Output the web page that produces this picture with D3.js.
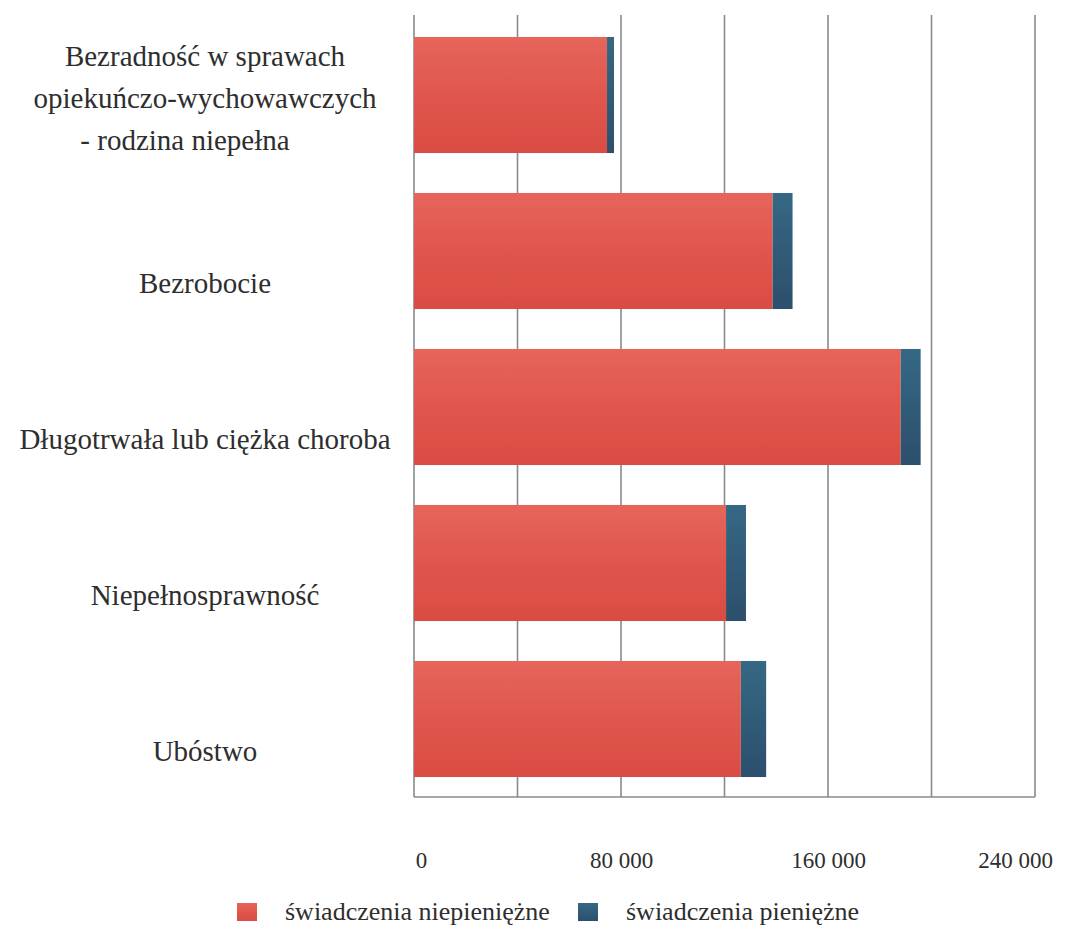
<!DOCTYPE html>
<html>
<head>
<meta charset="utf-8">
<script src="https://cdn.jsdelivr.net/npm/d3@7"></script>
</head>
<body style="margin:0;padding:0;background:#ffffff">
<svg id="chart" width="1068" height="925" style="display:block"></svg>
<script>
const categories = [
  ["Bezradność w sprawach", "opiekuńczo-wychowawczych", "- rodzina niepełna"],
  ["Bezrobocie"],
  ["Długotrwała lub ciężka choroba"],
  ["Niepełnosprawność"],
  ["Ubóstwo"]
];
const nonCash = [74600, 138600, 188100, 120600, 126300];
const cash = [2700, 7700, 7700, 7700, 9800];
const seriesNames = ["świadczenia niepieniężne", "świadczenia pieniężne"];
const tickValues = [0, 80000, 160000, 240000];
const gridValues = [0, 40000, 80000, 120000, 160000, 200000, 240000];

const svg = d3.select("#chart");
const plotLeft = 414, plotRight = 1035, plotTop = 15, plotBottom = 797;
const serif = "'Liberation Serif'";
const textColor = "#2e2e2e";

const x = d3.scaleLinear().domain([0, 240000]).range([plotLeft, plotRight]);
const y = d3.scaleBand().domain(d3.range(categories.length)).range([17, plotBottom]).paddingInner(0.256).paddingOuter(0.128);

const defs = svg.append("defs");
const gRed = defs.append("linearGradient").attr("id", "gRed").attr("x1", 0).attr("y1", 0).attr("x2", 0).attr("y2", 1);
gRed.append("stop").attr("offset", "0%").attr("stop-color", "#e6655b");
gRed.append("stop").attr("offset", "50%").attr("stop-color", "#e0564c");
gRed.append("stop").attr("offset", "100%").attr("stop-color", "#da4c43");
const gBlue = defs.append("linearGradient").attr("id", "gBlue").attr("x1", 0).attr("y1", 0).attr("x2", 0).attr("y2", 1);
gBlue.append("stop").attr("offset", "0%").attr("stop-color", "#356884");
gBlue.append("stop").attr("offset", "100%").attr("stop-color", "#2c4f6c");

// grid lines
svg.append("g").selectAll("line").data(gridValues).join("line")
  .attr("x1", d => x(d)).attr("x2", d => x(d))
  .attr("y1", plotTop).attr("y2", plotBottom)
  .attr("stroke", "#858b90").attr("stroke-width", 1.6);
// bottom axis line
svg.append("line").attr("x1", plotLeft).attr("x2", plotRight).attr("y1", plotBottom).attr("y2", plotBottom)
  .attr("stroke", "#858b90").attr("stroke-width", 1.6);

// bars
const bars = svg.append("g");
bars.selectAll("rect.nc").data(nonCash).join("rect").attr("class", "nc")
  .attr("x", x(0)).attr("y", (d, i) => y(i))
  .attr("width", d => x(d) - x(0)).attr("height", y.bandwidth())
  .attr("fill", "url(#gRed)");
bars.selectAll("rect.c").data(cash).join("rect").attr("class", "c")
  .attr("x", (d, i) => x(nonCash[i])).attr("y", (d, i) => y(i))
  .attr("width", (d, i) => x(nonCash[i] + d) - x(nonCash[i])).attr("height", y.bandwidth())
  .attr("fill", "url(#gBlue)");

// category labels
const labelX = 205;
const lab = svg.append("g");
categories.forEach((lines, i) => {
  const cy = y(i) + y.bandwidth() / 2;
  const lh = 42;
  const offset = lines.length > 1 ? 3 : 32;
  const startY = cy + offset - (lines.length - 1) * lh / 2;
  const t = lab.append("text").attr("x", labelX).attr("y", startY)
    .style("font-family", serif).style("font-size", "29px").style("fill", textColor)
    .attr("text-anchor", "middle");
  lines.forEach((ln, j) => {
    t.append("tspan").attr("x", labelX + (j === 2 ? -20 : 0)).attr("y", startY + j * lh).attr("dy", "0.35em").text(ln);
  });
});

// x tick labels
const xAxis = d3.axisBottom(x).tickValues(tickValues).tickSize(0)
  .tickFormat(d => d3.format(",")(d).replace(/,/g, " "));
const ax = svg.append("g").attr("transform", `translate(0, ${plotBottom + 52})`).call(xAxis);
ax.select(".domain").remove();
ax.selectAll("text")
  .style("font-family", serif).style("font-size", "23px").style("fill", textColor)
  .attr("dx", d => d === 0 ? 7 : (d === 240000 ? -20 : 0));

// legend
const legend = svg.append("g");
const legX = [237, 578];
seriesNames.forEach((name, i) => {
  legend.append("rect").attr("x", legX[i]).attr("y", 903).attr("width", 20).attr("height", 18)
    .attr("fill", i === 0 ? "url(#gRed)" : "url(#gBlue)");
  legend.append("text").attr("x", legX[i] + 48).attr("y", 911).attr("dy", "0.35em")
    .style("font-family", serif).style("font-size", "26px").style("fill", textColor)
    .text(name);
});
</script>
</body>
</html>
